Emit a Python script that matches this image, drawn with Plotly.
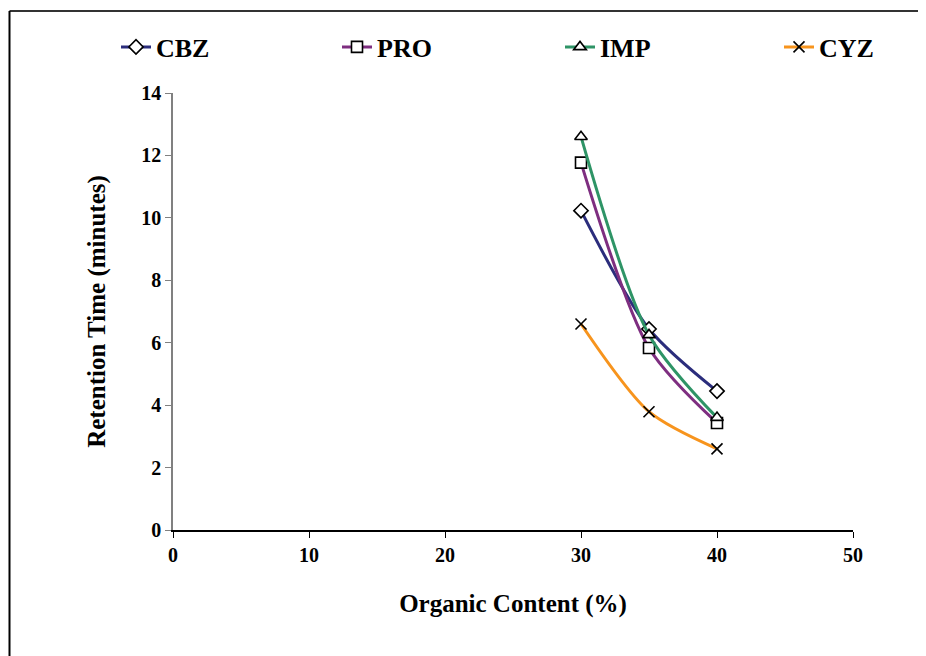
import plotly.graph_objects as go

organic = [30, 35, 40]
cbz = [10.23, 6.44, 4.45]
pro = [11.77, 5.83, 3.43]
imp = [12.6, 6.25, 3.6]
cyz = [6.6, 3.79, 2.6]

series = [
    ("CBZ", cbz, "#2B2D7C", "diamond", "white"),
    ("PRO", pro, "#7E2E80", "square", "white"),
    ("IMP", imp, "#2E9466", "triangle-up", "white"),
    ("CYZ", cyz, "#F7941D", "x-thin", "black"),
]

x_ticks = [0, 10, 20, 30, 40, 50]
y_ticks = [0, 2, 4, 6, 8, 10, 12, 14]

FONT = "Liberation Serif"
W, H = 926, 656
OFF = 8  # page body margin
legend_text_x = [156, 377, 600, 819]

fig = go.Figure()
for i, (name, vals, color, sym, fill) in enumerate(series):
    lid = "legend" if i == 0 else f"legend{i+1}"
    fig.add_trace(go.Scatter(
        x=organic, y=vals, name=name, mode="lines+markers",
        line=dict(color=color, width=3, shape="spline", smoothing=0.8),
        marker=dict(symbol=sym, size=11, color=fill,
                    line=dict(color="black", width=1.6)),
        legend=lid,
    ))

legend_common = dict(
    orientation="h", xref="container", yref="container",
    xanchor="left", yanchor="middle",
    font=dict(family=FONT, size=26, color="black", weight="bold"),
    bgcolor="rgba(0,0,0,0)",
)
legends = {}
for i, tx in enumerate(legend_text_x):
    key = "legend" if i == 0 else f"legend{i+1}"
    legends[key] = dict(legend_common, x=(tx - 40 - OFF) / W, y=1 - (47 - OFF) / H)

bx = (9.5 - 173) / 680
by = (530 - 11) / 437

fig.update_layout(
    width=W, height=H,
    paper_bgcolor="white", plot_bgcolor="white",
    margin=dict(l=173 - OFF, r=73 + OFF, t=93 - OFF, b=126 + OFF, autoexpand=False),
    font=dict(family=FONT, color="black"),
    showlegend=True,
    xaxis=dict(
        range=[0, 50], tickvals=x_ticks, ticktext=[str(v) for v in x_ticks],
        showgrid=False, zeroline=False, showline=True, linecolor="black", linewidth=1.5,
        ticks="outside", ticklen=6, tickcolor="black", tickwidth=1,
        tickfont=dict(family=FONT, size=20, weight="bold"),
        automargin=False,
        title=dict(text="Organic Content (%)", standoff=30,
                   font=dict(family=FONT, size=25, weight="bold")),
    ),
    yaxis=dict(
        range=[0, 14], tickvals=y_ticks, ticktext=[str(v) for v in y_ticks],
        showgrid=False, zeroline=False, showline=True, linecolor="#808080", linewidth=1.5,
        ticks="outside", ticklen=6, tickcolor="#808080", tickwidth=1,
        tickfont=dict(family=FONT, size=20, weight="bold"),
        automargin=False,
        title=dict(text="Retention Time (minutes)", standoff=29,
                   font=dict(family=FONT, size=25, weight="bold")),
    ),
    shapes=[
        dict(type="line", xref="paper", yref="paper", x0=bx, x1=1.2, y0=by, y1=by,
             line=dict(color="#333333", width=2)),
        dict(type="line", xref="paper", yref="paper", x0=bx, x1=bx, y0=by, y1=-0.3,
             line=dict(color="black", width=2)),
    ],
    **legends,
)

fig.write_html("out.html")
